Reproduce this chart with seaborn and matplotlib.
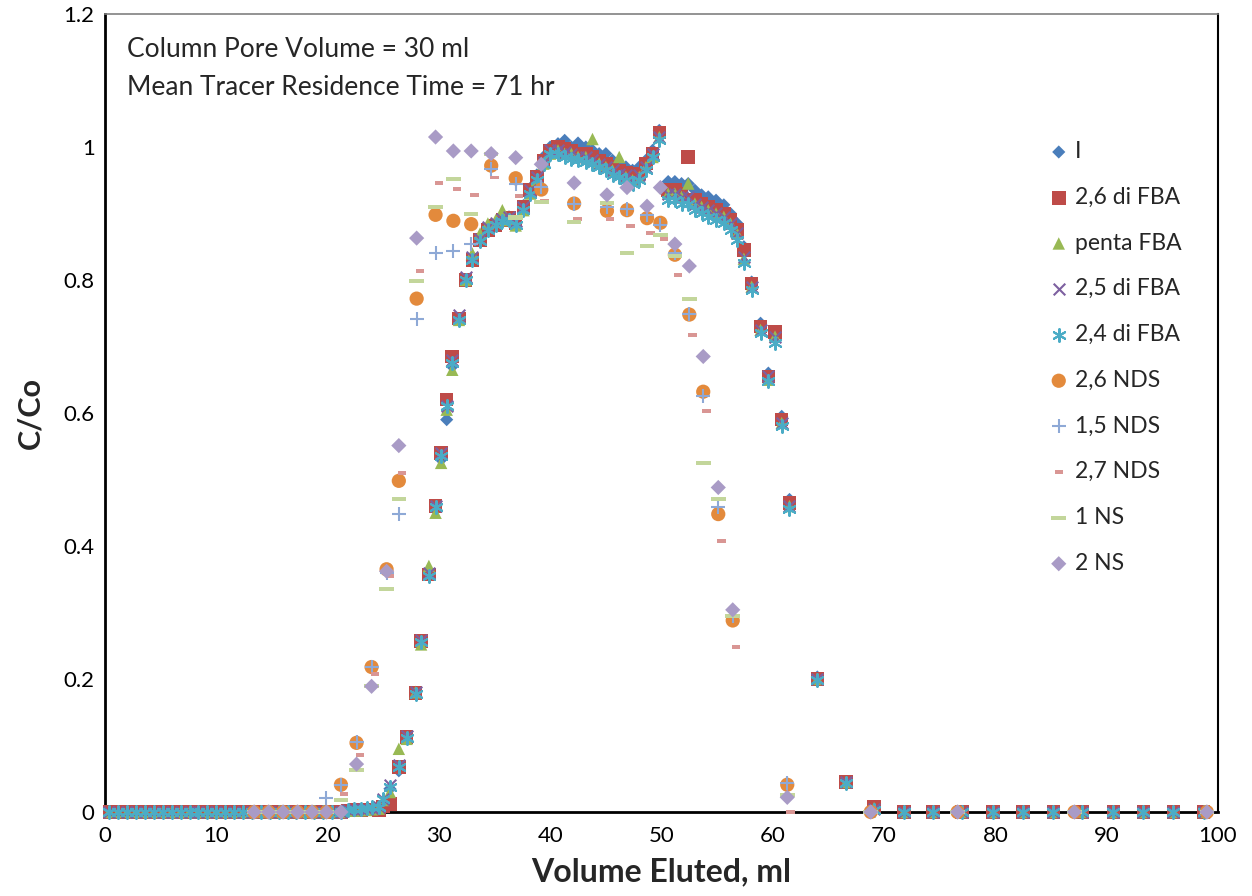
import matplotlib
matplotlib.use("Agg")
import matplotlib.pyplot as plt
import seaborn as sns
import pandas as pd

# volume eluted (ml) for the FBA series
vol_fba = [0.4, 1.2, 2.0, 2.8, 3.6, 4.4, 5.2, 6.0, 6.8, 7.6,
           8.4, 9.2, 10.0, 10.8, 11.6, 12.4, 13.2, 14.0, 14.8, 15.6,
           16.4, 17.2, 18.0, 18.8, 19.6, 20.4, 21.2,
           21.8, 22.4, 23.0, 23.5, 24.0,
           24.6, 25.0, 25.6, 26.4, 27.1, 27.9, 28.4, 29.1, 29.7, 30.2,
           30.7, 31.2, 31.8, 32.4, 33.0, 33.7, 34.4, 35.1, 35.7, 36.3,
           36.9, 37.6, 38.2, 38.8, 39.4, 40.0, 40.7, 41.3, 41.9, 42.5,
           43.2, 43.8, 44.4, 45.0, 45.6, 46.2, 46.8, 47.4, 48.0, 48.6,
           49.2, 49.8, 50.6, 51.2, 51.8, 52.4, 53.0, 53.6, 54.2, 54.9,
           55.6, 56.2, 56.8, 57.4, 58.1, 58.9, 59.6, 60.2, 60.8, 61.5,
           64.0, 66.6, 69.1, 71.8, 74.4, 77.0, 79.8, 82.5, 85.2, 87.8,
           90.6, 93.3, 96.0, 98.7]

c_i = [0, 0, 0, 0, 0, 0, 0, 0, 0, 0,
       0, 0, 0, 0, 0, 0, 0, 0, 0, 0,
       0, 0, 0, 0, 0, 0, 0,
       0.001, 0.002, 0.003, 0.003, 0.004,
       0.003, 0.012, 0.035, 0.062, 0.113, 0.18, 0.255, 0.357, 0.46, 0.53,
       0.59, 0.67, 0.742, 0.80, 0.83, 0.86, 0.878, 0.885, 0.89, 0.895,
       0.885, 0.912, 0.938, 0.958, 0.985, 1.0, 1.005, 1.01, 1.0, 1.006,
       1.0, 0.995, 0.99, 0.99, 0.98, 0.975, 0.97, 0.965, 0.97, 0.98,
       0.995, 1.025, 0.948, 0.948, 0.945, 0.945, 0.935, 0.928, 0.925, 0.92,
       0.913, 0.90, 0.885, 0.85, 0.797, 0.735, 0.66, 0.72, 0.595, 0.47,
       0.203, 0.045, 0.008, 0, 0, 0, 0, 0, 0, 0,
       0, 0, 0, 0]

c_26difba = [0, 0, 0, 0, 0, 0, 0, 0, 0, 0,
             0, 0, 0, 0, 0, 0, 0, 0, 0, 0,
             0, 0, 0, 0, 0, 0, 0,
             0.002, 0.003, 0.003, 0.004, 0.004,
             0.003, 0.008, 0.012, 0.068, 0.113, 0.179, 0.257, 0.357, 0.46, 0.54,
             0.62, 0.685, 0.742, 0.80, 0.83, 0.86, 0.875, 0.882, 0.89, 0.893,
             0.885, 0.91, 0.935, 0.955, 0.98, 0.995, 1.0, 0.998, 0.995, 0.99,
             0.99, 0.985, 0.98, 0.975, 0.97, 0.965, 0.962, 0.955, 0.96, 0.975,
             0.99, 1.022, 0.935, 0.935, 0.93, 0.985, 0.92, 0.915, 0.91, 0.905,
             0.90, 0.89, 0.875, 0.845, 0.795, 0.73, 0.655, 0.722, 0.59, 0.465,
             0.2, 0.045, 0.008, 0, 0, 0, 0, 0, 0, 0,
             0, 0, 0, 0]

c_pentafba = [0, 0, 0, 0, 0, 0, 0, 0, 0, 0,
              0, 0, 0, 0, 0, 0, 0, 0, 0, 0,
              0, 0, 0, 0, 0, 0, 0,
              0.002, 0.002, 0.003, 0.003, 0.004,
              0.005, 0.018, 0.03, 0.095, 0.11, 0.18, 0.252, 0.37, 0.45, 0.525,
              0.605, 0.665, 0.74, 0.80, 0.84, 0.87, 0.885, 0.89, 0.905, 0.89,
              0.882, 0.905, 0.93, 0.95, 0.975, 0.99, 0.995, 0.99, 0.99, 0.985,
              0.985, 1.012, 0.975, 0.97, 0.965, 0.985, 0.955, 0.95, 0.955, 0.97,
              0.985, 1.015, 0.93, 0.93, 0.925, 0.945, 0.915, 0.91, 0.905, 0.90,
              0.895, 0.885, 0.87, 0.832, 0.79, 0.725, 0.65, 0.715, 0.585, 0.46,
              0.2, 0.045, 0.006, 0, 0, 0, 0, 0, 0, 0,
              0, 0, 0, 0]

c_25difba = [0, 0, 0, 0, 0, 0, 0, 0, 0, 0,
             0, 0, 0, 0, 0, 0, 0, 0, 0, 0,
             0, 0, 0, 0, 0, 0, 0,
             0.003, 0.004, 0.004, 0.005, 0.006,
             0.008, 0.02, 0.04, 0.07, 0.115, 0.18, 0.258, 0.36, 0.46, 0.54,
             0.61, 0.68, 0.748, 0.805, 0.835, 0.862, 0.88, 0.886, 0.892, 0.895,
             0.888, 0.91, 0.935, 0.955, 0.978, 0.995, 0.995, 0.992, 0.99, 0.985,
             0.985, 0.98, 0.975, 0.97, 0.965, 0.96, 0.958, 0.952, 0.958, 0.97,
             0.99, 1.015, 0.93, 0.93, 0.925, 0.925, 0.915, 0.91, 0.905, 0.90,
             0.895, 0.885, 0.87, 0.835, 0.79, 0.725, 0.655, 0.715, 0.585, 0.46,
             0.2, 0.045, 0.005, 0, 0, 0, 0, 0, 0, 0,
             0, 0, 0, 0]

c_24difba = [0, 0, 0, 0, 0, 0, 0, 0, 0, 0,
             0, 0, 0, 0, 0, 0, 0, 0, 0, 0,
             0, 0, 0, 0, 0, 0, 0,
             0.003, 0.004, 0.005, 0.006, 0.007,
             0.008, 0.02, 0.038, 0.068, 0.112, 0.178, 0.255, 0.355, 0.458, 0.535,
             0.61, 0.675, 0.74, 0.80, 0.83, 0.858, 0.875, 0.882, 0.888, 0.89,
             0.882, 0.905, 0.93, 0.95, 0.975, 0.99, 0.99, 0.985, 0.982, 0.98,
             0.978, 0.975, 0.97, 0.965, 0.958, 0.955, 0.95, 0.945, 0.95, 0.965,
             0.985, 1.01, 0.92, 0.92, 0.915, 0.915, 0.905, 0.90, 0.895, 0.89,
             0.885, 0.875, 0.86, 0.825, 0.785, 0.72, 0.648, 0.705, 0.58, 0.455,
             0.198, 0.043, 0.003, 0, 0, 0, 0, 0, 0, 0,
             0, 0, 0, 0]

# volume eluted (ml) for the NDS / NS series
vol_nds = [13.4, 14.7, 16.0, 17.3, 18.6, 19.9, 21.2,
           22.6, 23.95, 25.3, 26.4, 28.0,
           29.7, 31.3, 32.9, 34.7, 36.9, 39.2, 42.15, 45.1,
           46.9, 48.7, 49.9, 51.2, 52.5, 53.75, 55.1, 56.4,
           61.3, 68.8, 76.6, 87.1, 99.0]
vol_27nds = [13.7, 15.0, 16.3, 17.6, 18.9, 20.2, 21.5,
             22.9, 24.25, 25.6, 26.7, 28.3,
             30.0, 31.6, 33.2, 35.0, 37.2, 39.5, 42.45, 45.4,
             47.2, 49.0, 50.2, 51.5, 52.8, 54.05, 55.4, 56.7,
             61.6, 69.1, 76.9, 87.4, 99.3]

c_26nds = [0, 0, 0, 0, 0, 0, 0.041,
           0.104, 0.218, 0.365, 0.498, 0.772,
           0.898, 0.889, 0.884, 0.972, 0.953, 0.936, 0.915, 0.904,
           0.905, 0.893, 0.886, 0.838, 0.748, 0.632, 0.448, 0.288,
           0.041, 0, 0, 0, 0]
c_15nds = [0, 0, 0, 0, 0, 0.021, 0.041,
           0.106, 0.218, 0.36, 0.448, 0.741,
           0.840, 0.843, 0.854, 0.967, 0.945, 0.94, 0.915, 0.91,
           0.907, 0.898, 0.883, 0.84, 0.749, 0.625, 0.459, 0.295,
           0.043, 0, 0, 0, 0]
c_27nds = [0, 0, 0, 0, 0, 0, 0.027,
           0.086, 0.208, 0.355, 0.51, 0.814,
           0.946, 0.937, 0.928, 0.954, 0.926, 0.919, 0.892, 0.892,
           0.881, 0.871, 0.862, 0.808, 0.717, 0.603, 0.408, 0.248,
           0, 0, 0, 0, 0]
c_1ns = [0, 0, 0, 0, 0, 0, 0.018,
         0.063, 0.19, 0.336, 0.470, 0.798,
         0.910, 0.952, 0.899, 0.99, 0.894, 0.917, 0.887, 0.916,
         0.841, 0.851, 0.868, 0.836, 0.771, 0.525, 0.471, 0.295,
         0.025, 0, 0, 0, 0]
c_2ns = [0, 0, 0, 0, 0, 0, 0,
         0.072, 0.189, 0.362, 0.551, 0.863,
         1.015, 0.994, 0.994, 0.99, 0.984, 0.974, 0.946, 0.928,
         0.939, 0.911, 0.939, 0.854, 0.821, 0.685, 0.488, 0.304,
         0.022, 0, 0, 0, 0]

y_ticks = [0, 0.2, 0.4, 0.6, 0.8, 1, 1.2]
x_ticks = [0, 10, 20, 30, 40, 50, 60, 70, 80, 90, 100]

short_dash = [(-1, -0.45), (1, -0.45), (1, 0.45), (-1, 0.45)]
long_dash = [(-1, -0.28), (1, -0.28), (1, 0.28), (-1, 0.28)]

# label, x, y, marker, colour, size, filled
series = [
    ("I", vol_fba, c_i, "D", "#4A7EBB", 45, True),
    ("2,6 di FBA", vol_fba, c_26difba, "s", "#BE4B48", 95, True),
    ("penta FBA", vol_fba, c_pentafba, "^", "#98B954", 80, True),
    ("2,5 di FBA", vol_fba, c_25difba, "x", "#7D60A0", 70, False),
    ("2,4 di FBA", vol_fba, c_24difba, (6, 2, 0), "#4BACC6", 85, False),
    ("2,6 NDS", vol_nds, c_26nds, "o", "#E38A3C", 105, True),
    ("1,5 NDS", vol_nds, c_15nds, "+", "#8EA9D6", 110, False),
    ("2,7 NDS", vol_27nds, c_27nds, short_dash, "#D99694", 36, True),
    ("1 NS", vol_nds, c_1ns, long_dash, "#C3D69B", 110, True),
    ("2 NS", vol_nds, c_2ns, "D", "#A99BC6", 60, True),
]

sns.set_style("white")
plt.rcParams["font.family"] = ["Lato", "DejaVu Sans"]

fig = plt.figure(figsize=(12.52, 8.96), dpi=100)
ax = fig.add_axes([105 / 1252, 84 / 896, 1113 / 1252, 798 / 896])

for label, xs, ys, marker, color, size, filled in series:
    df = pd.DataFrame({"vol": xs, "c": ys})
    if filled:
        sns.scatterplot(data=df, x="vol", y="c", marker=marker, color=color,
                        s=size, edgecolor="none", linewidth=0, label=label,
                        ax=ax, clip_on=False, zorder=3)
    else:
        sns.scatterplot(data=df, x="vol", y="c", marker=marker, color=color,
                        s=size, linewidth=1.5, label=label, ax=ax,
                        clip_on=False, zorder=3)

ax.set_xlim(0, 100)
ax.set_ylim(0, 1.2)
ax.set_xticks(x_ticks)
ax.set_yticks(y_ticks)
ax.set_xticklabels([f"{v:g}" for v in x_ticks])
ax.set_yticklabels([f"{v:g}" for v in y_ticks])
ax.tick_params(axis="both", direction="out", length=6, width=1.5,
               colors="black", labelsize=16)
ax.tick_params(axis="y", pad=1.5)
ax.tick_params(axis="x", pad=4)

for side in ["left", "bottom"]:
    ax.spines[side].set_color("black")
    ax.spines[side].set_linewidth(2)
ax.spines["right"].set_color("black")
ax.spines["right"].set_linewidth(1.5)
ax.spines["top"].set_color("#808080")
ax.spines["top"].set_linewidth(1.2)

ax.set_xlabel("Volume Eluted, ml", fontsize=23, fontweight="bold", labelpad=8)
ax.set_ylabel("C/Co", fontsize=22, fontweight="bold", labelpad=14)

fig.text(127 / 1252, 1 - 37 / 896, "Column Pore Volume = 30 ml",
         fontsize=19, va="top", ha="left")
fig.text(127 / 1252, 1 - 75 / 896, "Mean Tracer Residence Time = 71 hr",
         fontsize=19, va="top", ha="left")

ax.legend(loc="upper left", bbox_to_anchor=(1045 / 1252, 1 - 141 / 896),
          bbox_transform=fig.transFigure, frameon=False, fontsize=16.5,
          labelspacing=1.08, handletextpad=0.1, handlelength=1.2,
          borderaxespad=0, borderpad=0)

fig.savefig("out.png", dpi=100)
